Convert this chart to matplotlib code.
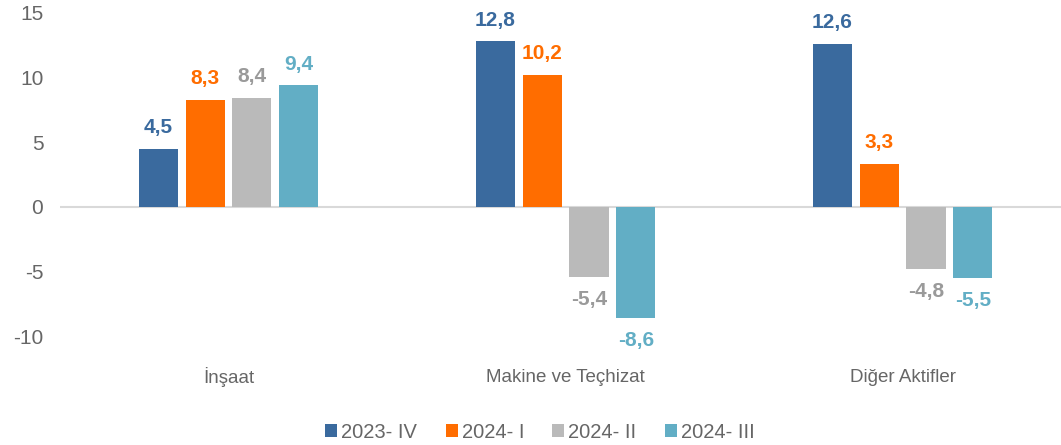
import numpy as np
import matplotlib.pyplot as plt

categories = ['İnşaat', 'Makine ve Teçhizat', 'Diğer Aktifler']
series = ['2023- IV', '2024- I', '2024- II', '2024- III']
values = [
    [4.5, 12.8, 12.6],
    [8.3, 10.2, 3.3],
    [8.4, -5.4, -4.8],
    [9.4, -8.6, -5.5],
]
colors = ['#3A6A9E', '#FF6D00', '#BABABA', '#62AEC5']
label_colors = ['#3A6A9E', '#FF6D00', '#9A9A9A', '#62AEC5']

plt.rcParams['font.family'] = ['Liberation Sans', 'DejaVu Sans']
plt.rcParams['axes.unicode_minus'] = False

fig = plt.figure(figsize=(10.61, 4.45), dpi=100)
ax = fig.add_axes([60 / 1061, 1 - 336 / 445, 1 - 60 / 1061, (336 - 13) / 445])

x = np.arange(len(categories))
width = 0.116
step = 0.139
for i in range(len(series)):
    pos = x + (i - 1.5) * step
    ax.bar(pos, values[i], width, color=colors[i], label=series[i], zorder=3)
    for p, v in zip(pos, values[i]):
        txt = ('%.1f' % v).replace('.', ',')
        if v >= 0:
            ax.annotate(txt, (p, v), xytext=(0, 8.5), textcoords='offset points',
                        ha='center', va='bottom', fontsize=15, fontweight='bold',
                        color=label_colors[i])
        else:
            ax.annotate(txt, (p, v), xytext=(0, -9.5), textcoords='offset points',
                        ha='center', va='top', fontsize=15, fontweight='bold',
                        color=label_colors[i])

ax.axhline(0, color='#D9D9D9', lw=1.5, zorder=2)
ax.set_xlim(-0.5, 2.47)
ax.set_ylim(-10, 15)
ax.set_yticks([-10, -5, 0, 5, 10, 15])
ax.set_xticks([])
for i, c in enumerate(categories):
    ax.text(x[i], -13.2, c, ha='center', va='center', fontsize=13.5, color='#666666')
ax.tick_params(axis='y', length=0, labelsize=15, labelcolor='#666666', pad=12)
for s in ax.spines.values():
    s.set_visible(False)
ax.patch.set_alpha(0)

fig.legend(loc='center', bbox_to_anchor=(540 / 1061, 1 - 432 / 445), ncol=4,
           frameon=False, fontsize=14.5, handlelength=0.6, handleheight=0.6,
           handletextpad=0.2, columnspacing=1.4, labelcolor='#666666')

fig.savefig('out.png', dpi=100)
